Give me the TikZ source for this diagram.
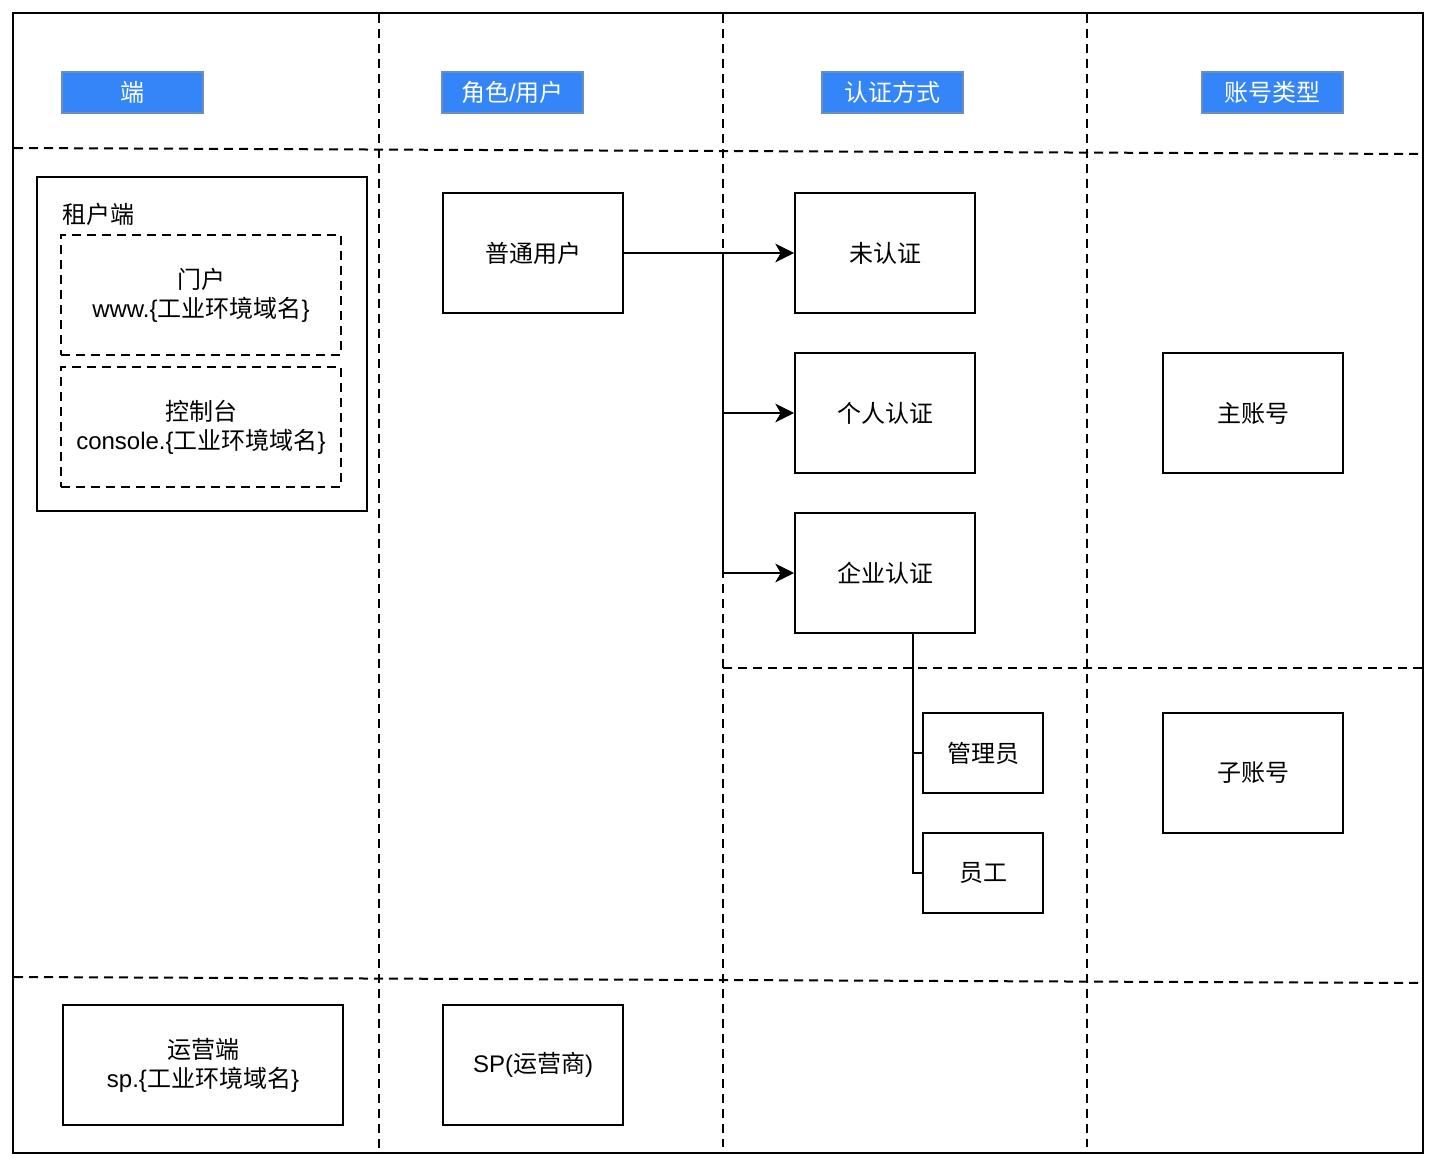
\documentclass[tikz,border=0pt]{standalone}
\usepackage{fontspec}
\setmainfont{Noto Sans CJK SC}
\newfontfamily\lf{Liberation Sans}
\usetikzlibrary{arrows.meta}
\definecolor{hdfill}{HTML}{3385F8}
\definecolor{hdline}{HTML}{6C8EBF}
\begin{document}
\begin{tikzpicture}[x=0.75pt,y=-0.75pt,
  font=\fontsize{18}{21.75}\selectfont,
  box/.style={draw, line width=1.5pt, fill=white, minimum width=135pt, minimum height=90pt, inner sep=0pt, align=center},
  smallbox/.style={box, minimum width=90pt, minimum height=60pt},
  dbox/.style={box, dash pattern=on 6.75pt off 4.5pt, minimum width=210pt},
  hdbox/.style={draw=hdline, line width=1.5pt, fill=hdfill, text=white, minimum width=105.75pt, minimum height=30.75pt, inner sep=0pt},
  sep/.style={line width=1.5pt, dash pattern=on 6.75pt off 4.5pt},
  conn/.style={line width=1.5pt},
  arr/.style={conn, -{Stealth[length=14pt, width=14pt, inset=4pt]}}]
\useasboundingbox (0,0) rectangle (1438,1170);
% lane separators
\draw[sep] (14,148) -- (1420,154);
\draw[sep] (14,977) -- (1420,983);
\draw[sep] (723,668) -- (1422,668);
\draw[sep] (379,14) -- (379,1152);
\draw[sep] (723,14) -- (723,1147);
\draw[sep] (1087,14) -- (1087,1147);
% outer frame
\draw[line width=1.5pt] (13,13) rectangle (1423,1153);
% headers
\node[hdbox] (h1) at (132.5,92.5) {端};
\node[hdbox] (h2) at (512.5,92.5) {角色{\lf /}用户};
\node[hdbox] (h3) at (892.5,92.5) {认证方式};
\node[hdbox] (h4) at (1272.5,92.5) {账号类型};
% tenant
\node[box, minimum width=247.5pt, minimum height=250.5pt] (tenant) at (202,344) {};
\node[anchor=west, inner sep=0pt] (tlabel) at (62,214) {租户端};
\node[dbox] (portal) at (201,295) {门户\\{\lf www.\{}工业环境域名{\lf \}}};
\node[dbox] (console) at (201,427) {控制台\\{\lf console.\{}工业环境域名{\lf \}}};
% roles
\node[box] (normal) at (533,253) {普通用户};
\node[box] (unauth) at (885,253) {未认证};
\node[box] (personal) at (885,413) {个人认证};
\node[box] (enterprise) at (885,573) {企业认证};
\node[smallbox] (admin) at (983,753) {管理员};
\node[smallbox] (staff) at (983,873) {员工};
\node[box] (mainacct) at (1253,413) {主账号};
\node[box] (subacct) at (1253,773) {子账号};
\node[box, minimum width=210pt] (ops) at (203,1065) {运营端\\{\lf sp.\{}工业环境域名{\lf \}}};
\node[box] (sp) at (533,1065) {{\lf SP(}运营商{\lf )}};
% connectors
\coordinate (j) at (723,253);
\draw[arr] (normal.east) -- (unauth.west);
\draw[arr] (j) |- (personal.west);
\draw[arr] (j) |- (enterprise.west);
\coordinate (eb) at ([xshift=21pt]enterprise.south);
\draw[conn] (eb) |- (admin.west);
\draw[conn] (eb) |- (staff.west);
\end{tikzpicture}
\end{document}
